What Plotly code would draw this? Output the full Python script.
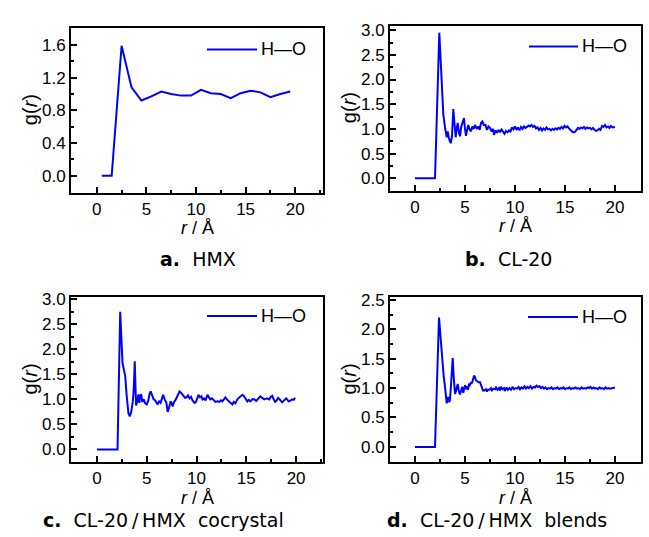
import plotly.graph_objects as go

W, H = 649, 537

# ---------------- data ----------------
# a. HMX
hmx_r = [0.5, 1.5, 2.5, 3.5, 4.5, 5.5, 6.5, 7.5, 8.5, 9.5,
         10.5, 11.5, 12.5, 13.5, 14.5, 15.5, 16.5, 17.5, 18.5, 19.5]
hmx_g = [0.0, 0.0, 1.59, 1.08, 0.92, 0.97, 1.03, 1.00, 0.98, 0.98,
         1.05, 1.01, 1.00, 0.95, 1.01, 1.04, 1.02, 0.96, 1.00, 1.03]

# b. CL-20
cl20_r = [0.0, 2.0, 2.43, 2.67, 2.83, 3.0, 3.17, 3.27, 3.4, 3.57,
          3.7, 3.83, 3.97, 4.07, 4.17, 4.27, 4.4, 4.5, 4.63, 4.77,
          4.9, 5.0, 5.1, 5.23, 5.33, 5.47, 5.6, 5.73, 5.87, 6.0,
          6.17, 6.33, 6.47, 6.6, 6.73, 6.87, 7.05, 7.2, 7.35, 7.5,
          7.65, 7.8, 7.9, 8.05, 8.2, 8.35, 8.5, 8.65, 8.8, 8.95,
          9.1, 9.25, 9.4, 9.55, 9.7, 9.85, 10.0, 10.15, 10.3, 10.45,
          10.6, 10.75, 10.9, 11.05, 11.2, 11.35, 11.5, 11.65, 11.8, 11.95,
          12.1, 12.25, 12.4, 12.55, 12.7, 12.85, 13.0, 13.15, 13.3, 13.45,
          13.6, 13.75, 13.9, 14.05, 14.2, 14.35, 14.5, 14.65, 14.8, 14.95,
          15.1, 15.25, 15.4, 15.55, 15.7, 15.85, 16.0, 16.15, 16.3, 16.45,
          16.6, 16.75, 16.9, 17.05, 17.2, 17.35, 17.5, 17.65, 17.8, 17.95,
          18.1, 18.25, 18.4, 18.55, 18.7, 18.85, 19.0, 19.15, 19.3, 19.45,
          19.6, 19.75, 19.9, 20.0]
cl20_g = [0.0, 0.0, 2.95, 1.83, 1.30, 1.03, 0.83, 0.95, 0.80, 0.71,
          0.85, 1.40, 1.05, 0.83, 1.00, 1.12, 0.92, 0.85, 1.05, 1.15,
          1.22, 1.00, 0.86, 1.00, 1.08, 0.98, 0.95, 1.05, 1.00, 1.08,
          1.00, 1.05, 0.98, 1.12, 1.15, 1.08, 1.08, 0.98, 1.05, 1.02,
          0.95, 1.00, 0.88, 0.97, 0.92, 0.98, 0.93, 0.99, 0.95, 0.90,
          0.96, 0.93, 0.97, 0.95, 1.03, 0.99, 1.05, 0.98, 1.03, 0.97,
          1.04, 1.00, 1.05, 1.02, 1.04, 1.07, 1.05, 1.08, 1.04, 1.06,
          1.01, 1.03, 0.98, 1.02, 0.97, 1.01, 0.98, 1.03, 0.99, 1.00,
          0.97, 1.00, 0.98, 1.01, 0.99, 1.02, 1.00, 1.04, 1.01, 1.06,
          1.03, 1.05, 1.01, 0.97, 0.95, 0.93, 0.94, 0.98, 1.02, 1.00,
          1.03, 1.01, 1.04, 1.00, 1.03, 1.01, 1.02, 0.99, 1.02, 0.98,
          0.96, 0.97, 1.00, 0.98, 1.06, 1.04, 1.08, 1.03, 1.05, 1.02,
          1.06, 1.03, 1.04, 1.04]

# c. CL-20/HMX cocrystal
co_r = [0.0, 2.07, 2.34, 2.45, 2.57, 2.7, 2.84, 3.0, 3.17, 3.3,
        3.45, 3.6, 3.7, 3.8, 3.87, 3.93, 4.05, 4.16, 4.27, 4.35,
        4.45, 4.55, 4.7, 4.85, 5.0, 5.15, 5.3, 5.4, 5.55, 5.7,
        5.85, 6.0, 6.1, 6.25, 6.4, 6.55, 6.65, 6.8, 6.98, 7.1,
        7.2, 7.4, 7.5, 7.6, 7.75, 7.9, 8.1, 8.3, 8.5, 8.7,
        8.85, 9.0, 9.15, 9.3, 9.45, 9.6, 9.8, 9.95, 10.1, 10.2,
        10.35, 10.5, 10.6, 10.75, 10.9, 11.0, 11.1, 11.25, 11.4, 11.55,
        11.7, 11.9, 12.1, 12.3, 12.45, 12.6, 12.75, 12.9, 13.05, 13.2,
        13.4, 13.6, 13.75, 13.9, 14.1, 14.3, 14.45, 14.6, 14.75, 14.9,
        15.1, 15.25, 15.4, 15.6, 15.8, 16.0, 16.2, 16.4, 16.6, 16.8,
        17.07, 17.3, 17.45, 17.6, 17.75, 17.9, 18.05, 18.2, 18.35, 18.6,
        18.8, 19.0, 19.1, 19.25, 19.4, 19.6, 19.75, 19.9]
co_g = [0.0, 0.0, 2.75, 2.10, 1.73, 1.60, 1.47, 1.05, 0.72, 0.66,
        0.75, 0.95, 1.20, 1.76, 1.30, 0.88, 0.95, 1.10, 0.93, 1.08,
        1.10, 0.95, 1.00, 0.92, 0.90, 0.97, 1.12, 1.16, 1.08, 1.00,
        0.98, 0.92, 0.90, 0.96, 0.93, 1.03, 1.09, 1.00, 0.93, 0.75,
        0.80, 0.96, 0.93, 0.86, 0.95, 0.99, 1.07, 1.16, 1.12, 1.07,
        1.03, 1.04, 1.08, 1.02, 1.05, 0.98, 0.93, 0.95, 1.04, 1.09,
        1.04, 1.06, 1.00, 1.02, 0.98, 1.05, 1.09, 1.04, 1.00, 1.02,
        0.98, 0.95, 0.96, 0.95, 0.98, 0.96, 1.00, 1.04, 1.00, 0.97,
        0.95, 0.90, 0.95, 0.92, 1.00, 1.04, 1.06, 1.09, 1.07, 1.02,
        0.96, 0.99, 0.96, 1.00, 1.00, 0.97, 1.02, 1.06, 1.03, 1.00,
        1.02, 1.00, 1.05, 1.07, 1.00, 0.95, 0.98, 1.03, 1.00, 0.94,
        0.98, 1.02, 1.00, 0.96, 0.97, 1.00, 0.99, 1.03]

# d. CL-20/HMX blends
bl_r = [0.0, 2.0, 2.4, 2.55, 2.73, 2.87, 3.0, 3.1, 3.17, 3.25,
        3.33, 3.42, 3.5, 3.62, 3.77, 3.87, 4.0, 4.1, 4.27, 4.38,
        4.5, 4.6, 4.73, 4.83, 4.92, 5.0, 5.1, 5.2, 5.3, 5.4,
        5.5, 5.6, 5.7, 5.8, 5.9, 6.0, 6.1, 6.2, 6.35, 6.5,
        6.6, 6.7, 6.8, 6.95, 7.1, 7.2, 7.3, 7.45, 7.6, 7.7,
        7.85, 8.0, 8.1, 8.25, 8.4, 8.5, 8.6, 8.75, 8.9, 9.0,
        9.15, 9.3, 9.45, 9.6, 9.75, 9.9, 10.05, 10.2, 10.35, 10.5,
        10.65, 10.8, 10.95, 11.1, 11.25, 11.4, 11.55, 11.7, 11.85, 12.0,
        12.15, 12.3, 12.45, 12.6, 12.75, 12.9, 13.05, 13.2, 13.35, 13.5,
        13.65, 13.8, 13.95, 14.1, 14.25, 14.4, 14.55, 14.7, 14.85, 15.0,
        15.15, 15.3, 15.45, 15.6, 15.75, 15.9, 16.05, 16.2, 16.35, 16.5,
        16.65, 16.8, 16.95, 17.1, 17.25, 17.4, 17.55, 17.7, 17.85, 18.0,
        18.15, 18.3, 18.45, 18.6, 18.75, 18.9, 19.05, 19.2, 19.35, 19.5,
        19.65, 19.8, 20.0]
bl_g = [0.0, 0.0, 2.20, 1.85, 1.47, 1.20, 1.02, 0.85, 0.74, 0.80,
        0.85, 0.76, 0.80, 1.10, 1.51, 1.20, 0.90, 0.95, 1.07, 0.95,
        0.89, 0.95, 1.02, 0.92, 1.00, 1.05, 0.98, 1.03, 0.97, 1.06,
        1.05, 1.10, 1.08, 1.17, 1.21, 1.19, 1.13, 1.12, 1.10, 1.10,
        1.05, 1.00, 0.96, 0.96, 0.98, 0.94, 0.97, 0.97, 1.00, 0.96,
        0.99, 0.98, 1.01, 0.97, 1.00, 0.96, 1.02, 0.98, 1.00, 0.95,
        1.01, 0.97, 1.00, 0.97, 1.02, 0.98, 1.00, 0.99, 1.02, 0.98,
        1.01, 0.99, 1.03, 0.99, 1.02, 1.00, 1.03, 0.99, 1.02, 1.01,
        1.04, 1.02, 1.03, 1.00, 1.02, 0.99, 1.01, 0.98, 1.00, 0.99,
        1.01, 0.98, 1.00, 0.99, 1.01, 0.98, 1.00, 0.99, 1.01, 0.98,
        1.00, 0.99, 1.01, 0.98, 1.00, 0.99, 1.01, 0.99, 1.00, 0.98,
        1.01, 0.99, 1.00, 0.99, 1.01, 1.00, 1.02, 0.99, 1.01, 0.99,
        1.00, 0.98, 1.01, 0.99, 1.00, 0.98, 1.01, 0.99, 1.00, 0.99,
        1.00, 1.00, 1.01]

captions = ["<b>a.</b>  HMX", "<b>b.</b>  CL-20",
            "<b>c.</b>  CL-20\u2009/\u2009HMX  cocrystal", "<b>d.</b>  CL-20\u2009/\u2009HMX  blends"]
legend_label = "H—O"

series = [(hmx_r, hmx_g), (cl20_r, cl20_g), (co_r, co_g), (bl_r, bl_g)]

# ---------------- layout (pixel geometry) ----------------
# plot frames: (left, right, top, bottom) in px
frames = [(71, 323, 21, 188), (390, 641, 19, 186),
          (71, 323, 294, 461), (390, 641, 294, 461)]
xranges = [[-2.6, 22.8], [-2.5, 22.6], [-2.6, 22.7], [-2.5, 22.6]]
yranges = [[-0.205, 1.81], [-0.25, 3.09], [-0.25, 3.04], [-0.257, 2.545]]
ydticks = [0.4, 0.5, 0.5, 0.5]
caption_pos = [(198, 255), (508, 255), (163, 520), (497, 520)]
legend_pos = [(207, 257, 43), (529, 578, 40), (207, 257, 313), (528, 578, 314)]

def px(x):
    return x / W

def py(y):
    return 1 - y / H

BLUE = "#0000ff"
TICKFONT = dict(family="Liberation Sans, Arial, sans-serif", size=17, color="black")
TITLEFONT = dict(family="Liberation Sans, Arial, sans-serif", size=18, color="black")
YTITLEFONT = dict(family="Liberation Sans, Arial, sans-serif", size=20, color="black")
CAPFONT = dict(family="DejaVu Sans, sans-serif", size=19, color="black")

fig = go.Figure()
annotations = []
shapes = []

for i, ((r, g), (l, rt, t, b)) in enumerate(zip(series, frames)):
    n = "" if i == 0 else str(i + 1)
    fig.add_trace(go.Scatter(x=r, y=g, mode="lines", xaxis="x" + n, yaxis="y" + n,
                             line=dict(color=BLUE, width=2), showlegend=False,
                             name=legend_label))
    common = dict(showline=True, mirror=True, linewidth=2, linecolor="black",
                  ticks="inside", ticklen=6, tickwidth=1.5, tickcolor="black",
                  showgrid=False, zeroline=False, tickfont=TICKFONT)
    fig.layout["xaxis" + n] = dict(
        domain=[px(l), px(rt)], range=xranges[i], anchor="y" + n,
        tickmode="linear", tick0=0, dtick=5,
        minor=dict(ticks="inside", ticklen=3, tickwidth=1.5, tickcolor="black",
                   dtick=2.5, tick0=0, showgrid=False),
        **common)
    fig.layout["yaxis" + n] = dict(
        domain=[py(b), py(t)], range=yranges[i], anchor="x" + n,
        tickmode="linear", tick0=0, dtick=ydticks[i], tickformat=".1f",
        minor=dict(ticks="inside", ticklen=3, tickwidth=1.5, tickcolor="black",
                   dtick=ydticks[i] / 2, tick0=0, showgrid=False),
        **common)

    # axis titles
    annotations.append(dict(text="<i>r</i> / Å", x=px((l + rt) / 2), y=py(b + 36),
                            xref="paper", yref="paper", showarrow=False,
                            xanchor="center", yanchor="middle", font=TITLEFONT))
    annotations.append(dict(text="g(<i>r</i>)", x=px(l - 41), y=py((t + b) / 2),
                            xref="paper", yref="paper", showarrow=False, textangle=-90,
                            xanchor="center", yanchor="middle", font=YTITLEFONT))
    # caption
    cx, cy = caption_pos[i]
    annotations.append(dict(text=captions[i], x=px(cx), y=py(cy), xref="paper", yref="paper",
                            showarrow=False, xanchor="center", yanchor="middle", font=CAPFONT))
    # legend replica
    lx0, lx1, ly = legend_pos[i]
    shapes.append(dict(type="line", xref="paper", yref="paper",
                       x0=px(lx0), x1=px(lx1), y0=py(ly), y1=py(ly),
                       line=dict(color=BLUE, width=2)))
    annotations.append(dict(text=legend_label, x=px(lx1 + 2), y=py(ly), xref="paper", yref="paper",
                            showarrow=False, xanchor="left", yanchor="middle", font=TITLEFONT))

fig.update_layout(width=W, height=H, margin=dict(l=0, r=0, t=0, b=0),
                  paper_bgcolor="white", plot_bgcolor="white",
                  annotations=annotations, shapes=shapes, showlegend=False)

fig.write_html("out.html", config={"displayModeBar": False},
               post_script="document.body.style.margin='0px';")
